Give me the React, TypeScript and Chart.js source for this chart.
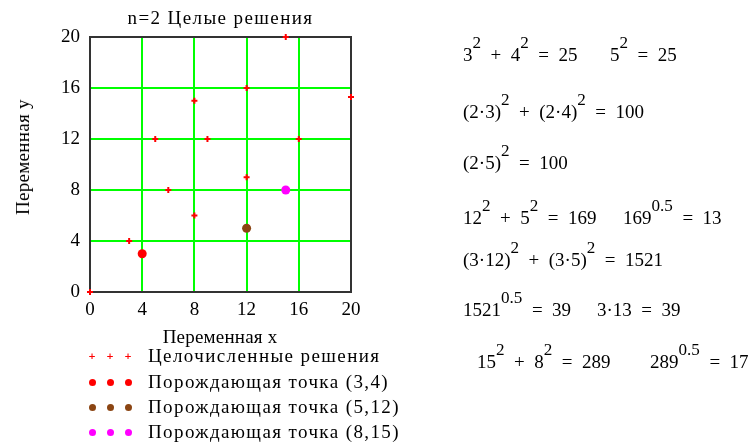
import React, { useEffect, useRef } from "react";
import { Chart, registerables } from "chart.js";

Chart.register(...registerables);

// Integer solutions of x^2 + y^2 = z^2 inside the 20x20 window
const solutionX = [0, 3, 6, 8, 12, 5, 9, 16, 8, 12, 15, 20];
const solutionY = [0, 4, 8, 6, 9, 12, 12, 12, 15, 16, 20, 15.3];

// Generating points
const generatorLabels = [
  "Порождающая точка (3,4)",
  "Порождающая точка (5,12)",
  "Порождающая точка (8,15)",
];
const generatorX = [4, 12, 15];
const generatorY = [3, 5, 8];
const generatorColors = ["#ff0000", "#8b4513", "#ff00ff"];

const solutionLabel = "Целочисленные решения";
const chartTitle = "n=2 Целые решения";
const xTitle = "Переменная x";
const yTitle = "Переменная у";
const axisMin = 0;
const axisMax = 20;
const axisStep = 4;

// Worked identities shown beside the plot ("^" marks an exponent)
const equations: { text: string; left: number; cy: number }[] = [
  { text: "3^2 + 4^2 = 25", left: 463, cy: 55 },
  { text: "5^2 = 25", left: 610, cy: 55 },
  { text: "(2·3)^2 + (2·4)^2 = 100", left: 463, cy: 112 },
  { text: "(2·5)^2 = 100", left: 463, cy: 163 },
  { text: "12^2 + 5^2 = 169", left: 463, cy: 218 },
  { text: "169^0.5 = 13", left: 623, cy: 218 },
  { text: "(3·12)^2 + (3·5)^2 = 1521", left: 463, cy: 260 },
  { text: "1521^0.5 = 39", left: 463, cy: 310 },
  { text: "3·13 = 39", left: 597, cy: 310 },
  { text: "15^2 + 8^2 = 289", left: 477, cy: 362 },
  { text: "289^0.5 = 17", left: 650, cy: 362 },
];

const FONT = "'Liberation Serif', 'Times New Roman', serif";
const W = 752;
const H = 447;
const AREA = { left: 90, right: 351, top: 37, bottom: 292 };

function Formula({ text }: { text: string }) {
  const parts = text.split(/\^(\S+)/);
  return (
    <>
      {parts.map((p, i) =>
        i % 2 === 1 ? (
          <span
            key={i}
            style={{ fontSize: "0.9em", position: "relative", top: "-0.75em" }}
          >
            {p}
          </span>
        ) : (
          <span key={i}>{p.replace(/ ([+=]) /g, "  $1  ")}</span>
        )
      )}
    </>
  );
}

const framePlugin = {
  id: "frame",
  beforeDatasetsDraw(chart: any) {
    const { ctx, chartArea } = chart;
    ctx.save();
    ctx.strokeStyle = "#333333";
    ctx.lineWidth = 2;
    ctx.strokeRect(
      chartArea.left,
      chartArea.top,
      chartArea.right - chartArea.left,
      chartArea.bottom - chartArea.top
    );
    ctx.restore();
  },
};

export default function App() {
  const canvasRef = useRef<HTMLCanvasElement | null>(null);

  useEffect(() => {
    if (!canvasRef.current) return;
    const gridColor = (c: any) =>
      c.tick && (c.tick.value === axisMin || c.tick.value === axisMax)
        ? "rgba(0,0,0,0)"
        : "#00ff00";

    const datasets: any[] = [
      {
        label: solutionLabel,
        data: solutionX.map((x, i) => ({ x, y: solutionY[i] })),
        pointStyle: "cross",
        pointRadius: 3,
        borderWidth: 2,
        borderColor: "#ff0000",
        backgroundColor: "#ff0000",
        showLine: false,
        clip: false,
        order: 2,
      },
      ...generatorLabels.map((label, i) => ({
        label,
        data: [{ x: generatorX[i], y: generatorY[i] }],
        pointStyle: "circle",
        pointRadius: 4.5,
        borderWidth: 0,
        backgroundColor: generatorColors[i],
        borderColor: generatorColors[i],
        showLine: false,
        clip: false,
        order: 1,
      })),
    ];

    const tickFont = { family: FONT, size: 19 };
    const chart = new Chart(canvasRef.current, {
      type: "scatter",
      data: { datasets },
      plugins: [framePlugin],
      options: {
        responsive: false,
        maintainAspectRatio: false,
        animation: false,
        layout: {
          padding: { top: AREA.top, right: W - AREA.right, left: 0, bottom: 0 },
        },
        plugins: {
          legend: { display: false },
          title: { display: false },
          tooltip: { enabled: false },
        },
        scales: {
          x: {
            type: "linear",
            min: axisMin,
            max: axisMax,
            ticks: { stepSize: axisStep, font: tickFont, color: "#000", padding: 7, maxRotation: 0 },
            grid: { color: gridColor, lineWidth: 2, drawTicks: false },
            border: { display: false },
            afterFit: (s: any) => {
              s.height = H - AREA.bottom;
            },
          },
          y: {
            type: "linear",
            min: axisMin,
            max: axisMax,
            ticks: { stepSize: axisStep, font: tickFont, color: "#000", padding: 10 },
            grid: { color: gridColor, lineWidth: 2, drawTicks: false },
            border: { display: false },
            afterFit: (s: any) => {
              s.width = AREA.left;
            },
          },
        },
      } as any,
    });
    return () => chart.destroy();
  }, []);

  const textBase: React.CSSProperties = {
    position: "absolute",
    fontFamily: FONT,
    fontSize: 19,
    color: "#000",
    whiteSpace: "pre",
    lineHeight: "22px",
  };

  const legendRows = [solutionLabel, ...generatorLabels];
  const legendY = [356, 382, 407, 432];
  const legendDotX = [92, 110, 128];

  return (
    <div
      style={{
        position: "fixed",
        left: 0,
        top: 0,
        width: W,
        height: H,
        background: "#fff",
        overflow: "hidden",
      }}
    >
      <canvas
        ref={canvasRef}
        width={W}
        height={H}
        style={{ position: "absolute", left: 0, top: 0, width: W, height: H }}
      />
      <div
        style={{
          ...textBase,
          left: (AREA.left + AREA.right) / 2,
          top: 18,
          letterSpacing: "1.4px",
          transform: "translate(-50%, -50%)",
        }}
      >
        {chartTitle}
      </div>
      <div
        style={{
          ...textBase,
          left: 23,
          top: 157,
          letterSpacing: "0.3px",
          transform: "translate(-50%, -50%) rotate(-90deg)",
        }}
      >
        {yTitle}
      </div>
      <div
        style={{
          ...textBase,
          left: 220,
          top: 337,
          letterSpacing: "0.2px",
          transform: "translate(-50%, -50%)",
        }}
      >
        {xTitle}
      </div>
      {legendRows.map((label, r) => (
        <React.Fragment key={label}>
          {legendDotX.map((dx, k) =>
            r === 0 ? (
              <div
                key={k}
                style={{
                  position: "absolute",
                  left: dx,
                  top: legendY[r],
                  transform: "translate(-50%, -50%)",
                  color: "#ff0000",
                  fontFamily: "DejaVu Sans",
                  fontSize: 9,
                  lineHeight: "9px",
                  fontWeight: 700,
                }}
              >
                +
              </div>
            ) : (
              <div
                key={k}
                style={{
                  position: "absolute",
                  left: dx - 3.5,
                  top: legendY[r] - 3.5,
                  width: 7,
                  height: 7,
                  borderRadius: "50%",
                  background: generatorColors[r - 1],
                }}
              />
            )
          )}
          <div style={{ ...textBase, left: 148, top: legendY[r] - 11, letterSpacing: "1.4px" }}>
            {label}
          </div>
        </React.Fragment>
      ))}
      {equations.map((eq, i) => (
        <div key={i} style={{ ...textBase, left: eq.left, top: eq.cy - 11 }}>
          <Formula text={eq.text} />
        </div>
      ))}
    </div>
  );
}
